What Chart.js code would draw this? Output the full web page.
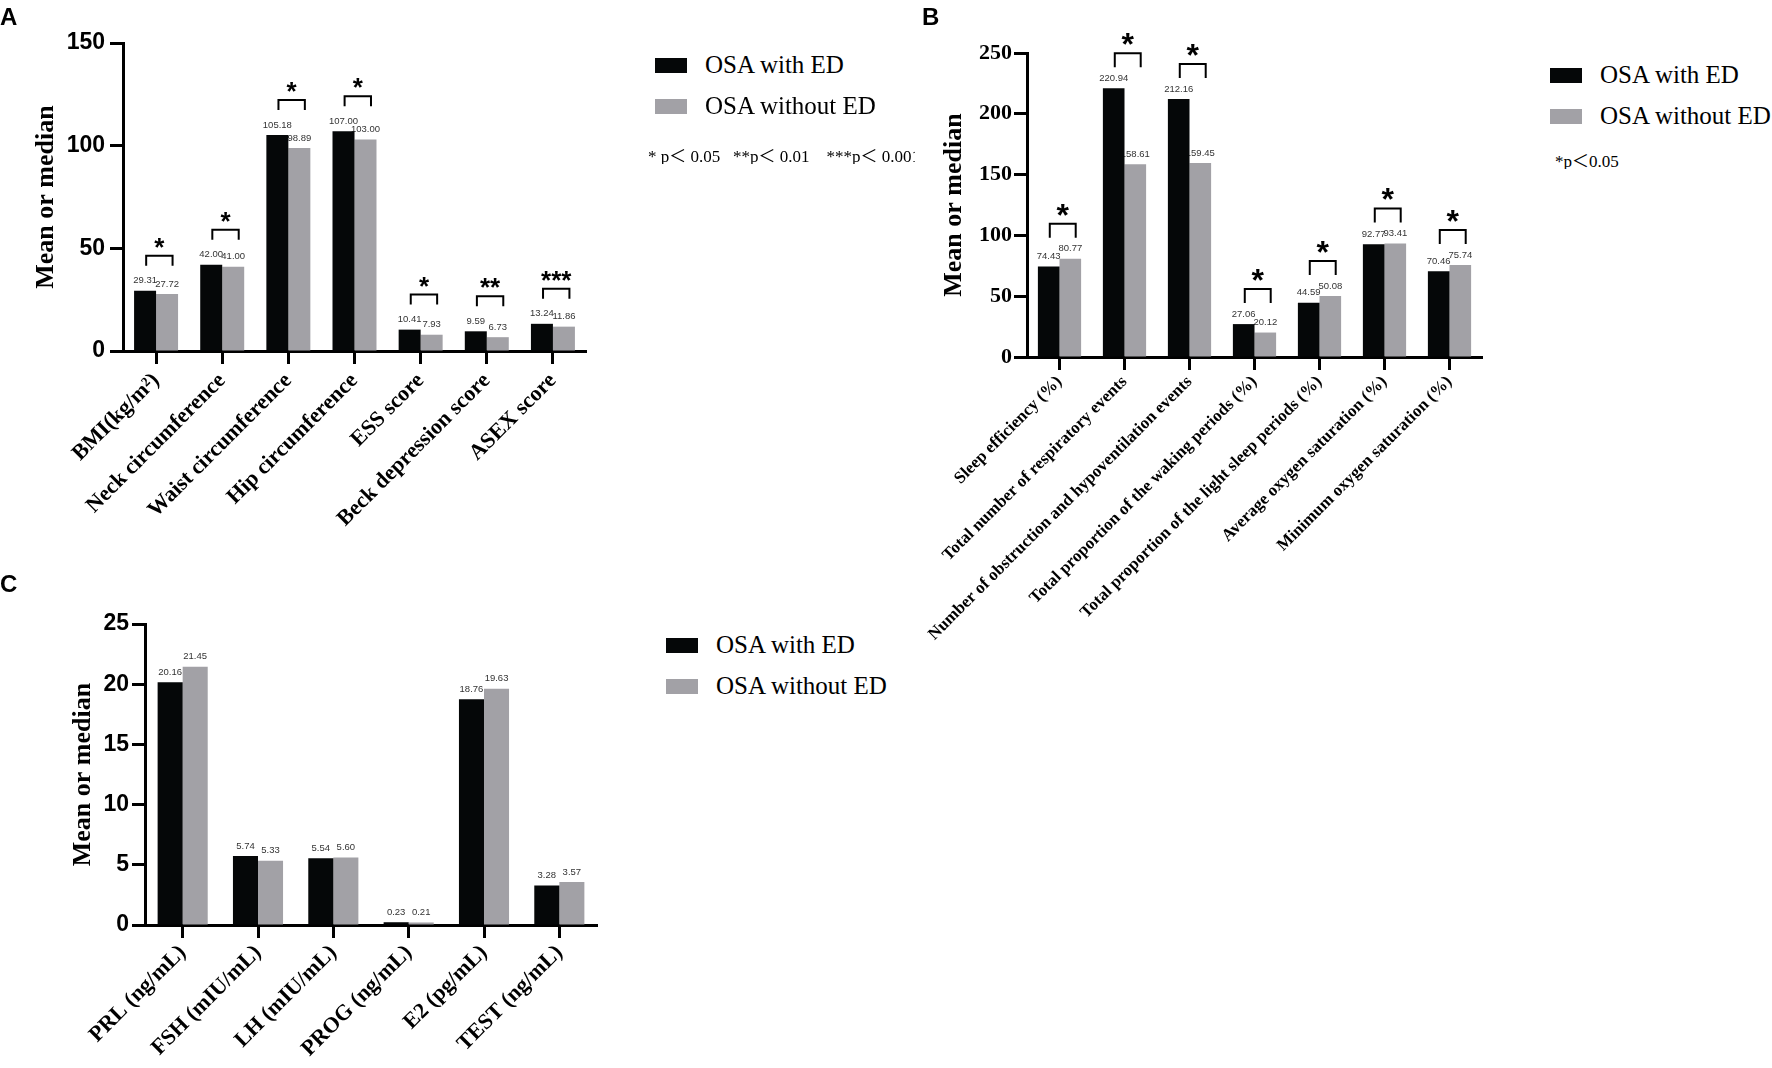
<!DOCTYPE html>
<html>
<head>
<meta charset="utf-8">
<script src="https://cdn.jsdelivr.net/npm/chart.js@4.4.1/dist/chart.umd.min.js"></script>
<style>
  body { margin: 0; width: 1772px; height: 1068px; background: #fff; position: relative; overflow: hidden; }
  canvas { position: absolute; }
  .panel_letter { position: absolute; font: bold 24px "Liberation Sans", Arial, sans-serif; line-height: 1; color: #000; }
  .legend_row { position: absolute; display: flex; align-items: center; height: 30px; white-space: nowrap;
    font: 25px "Liberation Serif", "Times New Roman", serif; color: #000; }
  .legend_box { width: 32px; height: 15px; margin-right: 18px; }
  .note { position: absolute; white-space: pre; overflow: hidden; height: 22px; line-height: 22px;
    font: 17px "Liberation Serif", "Noto Sans CJK SC", serif; color: #000; }
</style>
</head>
<body>
<canvas id="chart_a" width="600" height="540" style="left:0px;top:0px"></canvas>
<canvas id="chart_b" width="600" height="660" style="left:900px;top:0px"></canvas>
<canvas id="chart_c" width="640" height="508" style="left:0px;top:560px"></canvas>

<div class="panel_letter" style="left:0px;top:5px">A</div>
<div class="panel_letter" style="left:922px;top:5px">B</div>
<div class="panel_letter" style="left:0px;top:572px">C</div>

<div class="legend_row" style="left:655px;top:50px"><div class="legend_box" style="background:#050708"></div>OSA with ED</div>
<div class="legend_row" style="left:655px;top:91px"><div class="legend_box" style="background:#a2a1a6"></div>OSA without ED</div>
<div class="note" style="left:648px;top:142px;width:267px">* p＜ 0.05   **p＜ 0.01    ***p＜ 0.001</div>

<div class="legend_row" style="left:1550px;top:60px"><div class="legend_box" style="background:#050708"></div>OSA with ED</div>
<div class="legend_row" style="left:1550px;top:101px"><div class="legend_box" style="background:#a2a1a6"></div>OSA without ED</div>
<div class="note" style="left:1555px;top:147px">*p＜0.05</div>

<div class="legend_row" style="left:666px;top:630px"><div class="legend_box" style="background:#050708"></div>OSA with ED</div>
<div class="legend_row" style="left:666px;top:671px"><div class="legend_box" style="background:#a2a1a6"></div>OSA without ED</div>

<script>
const bar_black = '#050708';
const bar_gray = '#a2a1a6';

// panel A: anthropometry and scores
const a_labels = ['BMI(kg/m²)', 'Neck circumference', 'Waist circumference', 'Hip circumference',
    'ESS score', 'Beck depression score', 'ASEX score'];
const a_with_ed = [29.31, 42.00, 105.18, 107.00, 10.41, 9.59, 13.24];
const a_without_ed = [27.72, 41.00, 98.89, 103.00, 7.93, 6.73, 11.86];
const a_marks = ['*', '*', '*', '*', '*', '**', '***'];

// panel B: sleep study
const b_labels = ['Sleep efficiency (%)', 'Total number of respiratory events',
    'Number of obstruction and hypoventilation events', 'Total proportion of the waking periods (%)',
    'Total proportion of the light sleep periods (%)', 'Average oxygen saturation (%)',
    'Minimum oxygen saturation (%)'];
const b_with_ed = [74.43, 220.94, 212.16, 27.06, 44.59, 92.77, 70.46];
const b_without_ed = [80.77, 158.61, 159.45, 20.12, 50.08, 93.41, 75.74];
const b_marks = ['*', '*', '*', '*', '*', '*', '*'];

// panel C: hormones
const c_labels = ['PRL (ng/mL)', 'FSH (mIU/mL)', 'LH (mIU/mL)', 'PROG (ng/mL)', 'E2 (pg/mL)', 'TEST (ng/mL)'];
const c_with_ed = [20.16, 5.74, 5.54, 0.23, 18.76, 3.28];
const c_without_ed = [21.45, 5.33, 5.60, 0.21, 19.63, 3.57];
const c_marks = [];

const value_labels_plugin = {
    id: 'value_labels',
    beforeDatasetsDraw(chart) {
        let ctx = chart.ctx;
        ctx.save();
        ctx.font = '9.5px "Liberation Sans", Arial, sans-serif';
        ctx.fillStyle = '#333';
        ctx.textAlign = 'center';
        ctx.textBaseline = 'middle';
        chart.data.datasets.forEach((dataset, di) => {
            chart.getDatasetMeta(di).data.forEach((bar, i) => {
                ctx.fillText(dataset.data[i].toFixed(2), bar.x, bar.y - 10);
            });
        });
        ctx.restore();
    },
    afterDatasetsDraw(chart, args, opts) {
        let ctx = chart.ctx;
        let first = chart.getDatasetMeta(0).data;
        let second = chart.getDatasetMeta(1).data;
        ctx.save();
        ctx.strokeStyle = '#000';
        ctx.fillStyle = '#000';
        ctx.lineWidth = 2;
        ctx.textAlign = 'center';
        ctx.textBaseline = 'alphabetic';
        ctx.font = 'bold ' + opts.star_size + 'px "Liberation Sans", Arial, sans-serif';
        opts.marks.forEach((mark, i) => {
            if (!mark) return;
            let top = Math.min(first[i].y, second[i].y) - opts.gap;
            let bw = first[i].width;
            let cx = (first[i].x + second[i].x) / 2;
            let x1 = cx - 0.45 * bw;
            let x2 = cx + 0.75 * bw;
            ctx.beginPath();
            ctx.moveTo(x1, top + opts.leg);
            ctx.lineTo(x1, top);
            ctx.lineTo(x2, top);
            ctx.lineTo(x2, top + opts.leg);
            ctx.stroke();
            ctx.fillText(mark, (x1 + x2) / 2, top + opts.star_dy);
        });
        ctx.restore();
    }
};

function make_chart(canvas_id, labels, with_ed, without_ed, marks, s) {
    return new Chart(document.getElementById(canvas_id), {
        type: 'bar',
        data: {
            labels: labels,
            datasets: [{
                label: 'OSA with ED',
                data: with_ed,
                backgroundColor: bar_black,
                borderWidth: 0,
                barPercentage: 1,
                categoryPercentage: 0.665
            }, {
                label: 'OSA without ED',
                data: without_ed,
                backgroundColor: bar_gray,
                borderWidth: 0,
                barPercentage: 1,
                categoryPercentage: 0.665
            }]
        },
        options: {
            responsive: false,
            animation: false,
            layout: { padding: { top: s.pad_top, right: s.pad_right, left: 0, bottom: 0 } },
            plugins: {
                legend: { display: false },
                tooltip: { enabled: false },
                value_labels: { marks: marks, gap: s.gap, leg: s.leg, star_size: s.star_size, star_dy: s.star_dy }
            },
            scales: {
                x: {
                    afterFit: (scale) => { scale.height = s.x_height; },
                    border: { display: true, color: '#000', width: 3 },
                    grid: { offset: false, drawOnChartArea: false, drawTicks: true, tickLength: 13, tickWidth: 3, tickColor: '#000' },
                    ticks: {
                        autoSkip: false,
                        minRotation: 45,
                        maxRotation: 45,
                        padding: s.x_tick_pad,
                        color: '#000',
                        font: { family: '"Liberation Serif", "Times New Roman", serif', weight: 'bold', size: s.x_font }
                    }
                },
                y: {
                    min: 0,
                    max: s.y_max,
                    afterFit: (scale) => { scale.width = s.y_width; },
                    border: { display: true, color: '#000', width: 3 },
                    grid: { drawOnChartArea: false, drawTicks: true, tickLength: 13, tickWidth: 3, tickColor: '#000' },
                    ticks: {
                        stepSize: s.y_step,
                        padding: s.y_tick_pad,
                        color: '#000',
                        font: { family: s.y_font_family, weight: 'bold', size: s.y_font }
                    },
                    title: {
                        display: true,
                        text: 'Mean or median',
                        color: '#000',
                        padding: { top: s.title_pad, bottom: 0 },
                        font: { family: '"Liberation Serif", "Times New Roman", serif', weight: 'bold', size: 26 }
                    }
                }
            }
        },
        plugins: [value_labels_plugin]
    });
}

let sans = '"Liberation Sans", Arial, sans-serif';
let serif = '"Liberation Serif", "Times New Roman", serif';

let chart_a = make_chart('chart_a', a_labels, a_with_ed, a_without_ed, a_marks, {
    y_max: 150, y_step: 50, y_width: 123, x_height: 189, pad_top: 43, pad_right: 14,
    title_pad: 31, y_font_family: sans, y_font: 23, y_tick_pad: 5, x_font: 22, x_tick_pad: 4,
    gap: 35, leg: 10, star_size: 26, star_dy: 0
});

let chart_b = make_chart('chart_b', b_labels, b_with_ed, b_without_ed, b_marks, {
    y_max: 250, y_step: 50, y_width: 127, x_height: 303, pad_top: 53, pad_right: 18,
    title_pad: 39, y_font_family: serif, y_font: 22, y_tick_pad: 2, x_font: 17, x_tick_pad: 2,
    gap: 35, leg: 14, star_size: 32, star_dy: 2
});

let chart_c = make_chart('chart_c', c_labels, c_with_ed, c_without_ed, c_marks, {
    y_max: 25, y_step: 5, y_width: 145, x_height: 143, pad_top: 64, pad_right: 43,
    title_pad: 68, y_font_family: sans, y_font: 23, y_tick_pad: 3, x_font: 22, x_tick_pad: 2,
    gap: 35, leg: 10, star_size: 26, star_dy: 0
});
</script>
</body>
</html>
